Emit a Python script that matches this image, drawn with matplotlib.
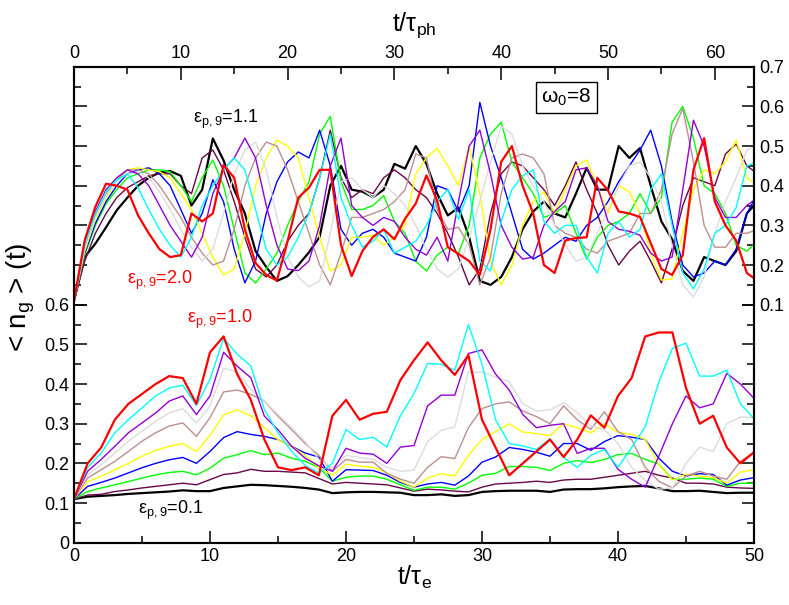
import numpy as np
import matplotlib
matplotlib.use('Agg')
import matplotlib.pyplot as plt

plt.rcParams['font.family'] = ['Liberation Sans', 'DejaVu Sans']
plt.rcParams['mathtext.fontset'] = 'custom'
plt.rcParams['mathtext.rm'] = 'Liberation Sans'
plt.rcParams['mathtext.default'] = 'regular'

# lower panel: eps_p,9 = 0.1 ... 1.0, time in t/tau_e
t_e = list(range(0, 51))
low_eps = ['0.1', '0.2', '0.3', '0.4', '0.5', '0.6', '0.7', '0.8', '0.9', '1.0']
low_01 = [.11, .116, .118, .12, .123, .125, .127, .129, .132, .13,
          .13, .138, .142, .146, .145, .143, .141, .138, .134, .125,
          .127, .128, .128, .127, .126, .12, .12, .122, .118, .12,
          .128, .13, .131, .131, .131, .128, .134, .135, .135, .137,
          .14, .142, .143, .137, .13, .13, .131, .128, .125, .126, .126]
low_02 = [.11, .12, .122, .129, .133, .138, .142, .146, .15, .146,
          .159, .172, .176, .185, .18, .18, .178, .176, .162, .148,
          .152, .15, .148, .146, .138, .13, .135, .133, .13, .128,
          .14, .148, .15, .152, .155, .152, .158, .16, .16, .165,
          .17, .175, .18, .17, .163, .15, .15, .148, .14, .138, .137]
low_03 = [.11, .129, .138, .146, .154, .163, .171, .177, .18, .171,
          .188, .213, .222, .232, .222, .226, .213, .205, .19, .155,
          .165, .168, .168, .16, .146, .132, .14, .14, .135, .15,
          .17, .175, .192, .192, .19, .182, .2, .207, .202, .21,
          .222, .225, .21, .198, .16, .16, .163, .16, .142, .15, .15]
low_04 = [.11, .142, .152, .163, .176, .189, .2, .209, .215, .2,
          .23, .265, .28, .273, .268, .26, .243, .226, .216, .155,
          .184, .183, .182, .17, .152, .14, .148, .152, .145, .168,
          .203, .216, .24, .235, .228, .218, .25, .25, .233, .255,
          .27, .266, .26, .213, .18, .168, .174, .172, .145, .158, .164]
low_05 = [.11, .154, .167, .184, .2, .218, .233, .243, .25, .23,
          .27, .322, .335, .32, .29, .26, .243, .22, .19, .17,
          .198, .193, .19, .176, .155, .14, .163, .174, .168, .22,
          .26, .28, .3, .279, .275, .27, .3, .29, .277, .3,
          .278, .273, .26, .197, .158, .173, .168, .164, .15, .178, .184]
low_06 = [.11, .163, .184, .205, .23, .256, .277, .294, .302, .268,
          .315, .38, .385, .374, .357, .319, .285, .25, .22, .18,
          .21, .203, .203, .175, .16, .15, .19, .217, .212, .29,
          .338, .35, .355, .332, .318, .30, .345, .31, .286, .33,
          .28, .26, .19, .155, .138, .168, .18, .168, .16, .205, .228]
low_07 = [.11, .171, .197, .226, .256, .281, .306, .327, .338, .302,
          .344, .44, .43, .386, .357, .323, .29, .255, .21, .19,
          .22, .215, .21, .19, .18, .183, .255, .283, .292, .43,
          .43, .418, .406, .35, .332, .335, .353, .328, .294, .285,
          .25, .19, .157, .135, .138, .2, .241, .23, .3, .317, .315]
low_08 = [.11, .18, .21, .243, .277, .302, .327, .357, .37, .323,
          .37, .48, .445, .416, .319, .285, .243, .213, .194, .18,
          .238, .226, .223, .2, .241, .245, .345, .372, .372, .477,
          .486, .425, .385, .323, .29, .296, .30, .225, .238, .238,
          .185, .16, .14, .218, .30, .37, .34, .35, .427, .4, .364]
low_09 = [.11, .19, .226, .277, .31, .34, .37, .39, .397, .346,
          .412, .515, .475, .446, .336, .277, .23, .195, .175, .2,
          .285, .26, .266, .241, .32, .376, .452, .45, .435, .55,
          .45, .31, .25, .244, .235, .262, .215, .19, .22, .235,
          .19, .24, .292, .405, .49, .503, .42, .42, .435, .35, .313]
low_10 = [.11, .2, .24, .31, .35, .375, .4, .42, .415, .35,
          .48, .52, .425, .36, .26, .19, .183, .19, .17, .32,
          .36, .31, .325, .33, .41, .46, .505, .46, .423, .473,
          .31, .24, .17, .2, .23, .26, .216, .26, .321, .29,
          .37, .415, .52, .53, .53, .39, .3, .32, .24, .2, .228]

# upper panel: eps_p,9 = 1.1 ... 2.0, time in t/tau_ph
t_ph = list(range(0, 65))
up_11 = [.11, .22, .254, .295, .338, .37, .40, .42, .433, .437,
         .425, .35, .39, .519, .464, .39, .33, .235, .195, .16,
         .172, .2, .232, .271, .40, .45, .39, .385, .371, .39,
         .455, .443, .50, .455, .38, .325, .345, .27, .16, .15,
         .17, .22, .29, .335, .36, .33, .32, .38, .445, .39,
         .39, .50, .47, .495, .40, .31, .265, .185, .16, .22,
         .21, .2, .235, .33, .36]
up_12 = [.11, .21, .28, .33, .37, .395, .41, .425, .43, .43,
         .40, .38, .47, .49, .44, .36, .27, .19, .17, .2,
         .26, .30, .33, .42, .54, .42, .37, .39, .38, .42,
         .44, .42, .39, .37, .33, .28, .22, .15, .19, .33,
         .43, .46, .45, .42, .39, .35, .40, .46, .39, .33,
         .25, .20, .235, .26, .21, .155, .24, .35, .42, .41,
         .40, .48, .505, .45, .43]
up_13 = [.11, .225, .30, .355, .39, .42, .43, .44, .44, .435,
         .40, .36, .42, .465, .40, .29, .18, .155, .19, .23,
         .30, .36, .41, .53, .575, .41, .34, .34, .35, .375,
         .31, .28, .21, .185, .225, .245, .23, .30, .47, .53,
         .56, .46, .42, .38, .32, .33, .35, .28, .215, .27,
         .30, .31, .33, .38, .33, .37, .56, .60, .52, .40,
         .38, .33, .25, .235, .26]
up_14 = [.11, .23, .305, .36, .40, .43, .44, .445, .43, .40,
         .34, .28, .33, .415, .36, .24, .155, .21, .33, .41,
         .46, .485, .47, .54, .45, .29, .25, .28, .29, .27,
         .23, .22, .21, .27, .40, .39, .335, .40, .61, .50,
         .42, .33, .24, .215, .23, .25, .27, .26, .30, .32,
         .36, .41, .45, .49, .54, .45, .31, .20, .17, .18,
         .21, .20, .24, .33, .38]
up_15 = [.11, .235, .315, .37, .41, .44, .445, .44, .435, .42,
         .38, .34, .28, .22, .175, .19, .28, .40, .47, .515,
         .50, .47, .37, .27, .185, .20, .27, .27, .275, .25,
         .27, .30, .43, .47, .494, .45, .40, .50, .38, .21,
         .15, .20, .30, .36, .385, .33, .39, .45, .465, .40,
         .33, .40, .385, .33, .23, .162, .165, .28, .39, .44,
         .43, .46, .515, .42, .40]
up_16 = [.11, .245, .325, .38, .415, .44, .44, .43, .40, .36,
         .32, .27, .23, .20, .21, .29, .40, .47, .51, .50,
         .44, .36, .28, .20, .15, .23, .32, .32, .33, .34,
         .36, .39, .48, .47, .34, .29, .295, .25, .15, .22,
         .38, .47, .48, .47, .43, .30, .28, .27, .24, .23,
         .26, .27, .28, .33, .33, .39, .53, .595, .46, .30,
         .245, .245, .28, .28, .29]
up_17 = [.11, .24, .32, .375, .41, .43, .435, .42, .385, .34,
         .29, .245, .21, .24, .33, .43, .49, .51, .44, .32,
         .22, .17, .145, .16, .28, .41, .42, .39, .37, .40,
         .38, .35, .30, .24, .19, .17, .19, .27, .36, .46,
         .55, .53, .45, .40, .36, .30, .25, .21, .22, .28,
         .34, .40, .45, .46, .42, .36, .25, .15, .12, .17,
         .28, .36, .42, .49, .50]
up_18 = [.11, .26, .335, .39, .42, .44, .43, .40, .35, .30,
         .26, .22, .27, .38, .44, .47, .52, .47, .35, .25,
         .19, .186, .21, .30, .45, .52, .35, .32, .30, .32,
         .31, .27, .24, .225, .27, .21, .36, .50, .54, .43,
         .30, .245, .215, .22, .30, .335, .36, .44, .445, .40,
         .31, .29, .285, .275, .23, .21, .22, .39, .565, .50,
         .37, .32, .32, .35, .37]
up_19 = [.11, .25, .33, .385, .415, .43, .395, .34, .29, .25,
         .22, .27, .35, .40, .44, .47, .44, .34, .24, .20,
         .22, .27, .33, .42, .53, .37, .30, .245, .26, .29,
         .23, .245, .26, .30, .36, .39, .315, .39, .21, .185,
         .31, .39, .425, .44, .31, .28, .30, .30, .22, .18,
         .28, .31, .27, .29, .39, .43, .30, .18, .14, .19,
         .28, .30, .345, .45, .46]
up_20 = [.11, .262, .347, .405, .40, .39, .325, .28, .24, .22,
         .225, .33, .31, .33, .452, .42, .29, .205, .175, .161,
         .26, .37, .395, .44, .44, .25, .172, .235, .271, .29,
         .265, .317, .355, .426, .363, .245, .228, .21, .175, .29,
         .46, .50, .40, .33, .20, .18, .262, .268, .27, .42,
         .388, .335, .33, .321, .255, .19, .175, .225, .44, .52,
         .36, .30, .262, .18, .16]

colors = ['#000000', '#670748', '#00ff00', '#0000ff', '#ffff00',
          '#bc8f8f', '#dcdcdc', '#9400d3', '#00ffff', '#ff0000']
widths = [1.6, 1.0, 1.0, 1.0, 1.0, 1.0, 1.0, 1.0, 1.0, 1.6]
low_sets = [low_01, low_02, low_03, low_04, low_05, low_06, low_07, low_08, low_09, low_10]
up_sets = [up_11, up_12, up_13, up_14, up_15, up_16, up_17, up_18, up_19, up_20]

fig = plt.figure(figsize=(7.89, 6.05), dpi=100)
rect = [74 / 789, 62.3 / 605, 680 / 789, 476 / 605]
ax = fig.add_axes(rect)
ax2 = fig.add_axes(rect, facecolor='none')

for y, c, w in zip(low_sets, colors, widths):
    ax.plot(t_e, y, color=c, lw=w, solid_joinstyle='round')
for y, c, w in zip(up_sets, colors, widths):
    ax2.plot(t_ph, y, color=c, lw=w, solid_joinstyle='round')

ax.set_xlim(0, 50)
ax.set_ylim(0, 1.2)
ax.set_xticks([0, 10, 20, 30, 40, 50])
ax.set_xticks([5, 15, 25, 35, 45], minor=True)
ax.set_yticks([0, .1, .2, .3, .4, .5, .6])
ax.set_yticklabels(['0', '0.1', '0.2', '0.3', '0.4', '0.5', '0.6'])
ax.set_yticks([.05, .15, .25, .35, .45, .55], minor=True)
ax.tick_params(which='both', direction='in', right=True, top=False,
               labelright=False, labelsize=13, width=1.1)
ax.tick_params(which='major', length=9)
ax.tick_params(which='minor', length=5)

ax2.set_xlim(0, 680 / 10.68)
ax2.set_ylim(-0.5, 0.7)
ax2.xaxis.tick_top()
ax2.yaxis.tick_right()
ax2.xaxis.set_label_position('top')
ax2.set_xticks([0, 10, 20, 30, 40, 50, 60])
ax2.set_xticks([5, 15, 25, 35, 45, 55], minor=True)
ax2.set_yticks([.1, .2, .3, .4, .5, .6, .7])
ax2.set_yticks([.15, .25, .35, .45, .55, .65], minor=True)
ax2.tick_params(which='both', direction='in', left=True, bottom=False,
                labelleft=False, labelbottom=False, labelsize=13, width=1.1)
ax2.tick_params(which='major', length=9)
ax2.tick_params(which='minor', length=5)

for a in (ax, ax2):
    for s in a.spines.values():
        s.set_linewidth(1.5)

ax.set_xlabel(r't/τ$_e$', fontsize=18)
ax.xaxis.set_label_coords(0.5, -0.045)
ax.set_ylabel(r'< n$_g$ > (t)', fontsize=20)
ax.yaxis.set_label_coords(-0.055, 0.515)
ax2.set_xlabel(r't/τ$_{ph}$', fontsize=18)
ax2.xaxis.set_label_coords(0.5, 1.075)

ax.text(8.75, 1.057, r'ε$_{p,9}$=1.1', color='black', fontsize=13)
ax.text(3.9, 0.653, r'ε$_{p,9}$=2.0', color='red', fontsize=13)
ax.text(8.3, 0.555, r'ε$_{p,9}$=1.0', color='red', fontsize=13)
ax.text(4.7, 0.073, r'ε$_{p,9}$=0.1', color='black', fontsize=13)
ax.text(36.2, 1.122, r'ω$_0$=8', fontsize=15, ha='center', va='center',
        bbox=dict(boxstyle='square,pad=0.25', fc='white', ec='black', lw=1.0))

fig.savefig('out.png', dpi=100)
